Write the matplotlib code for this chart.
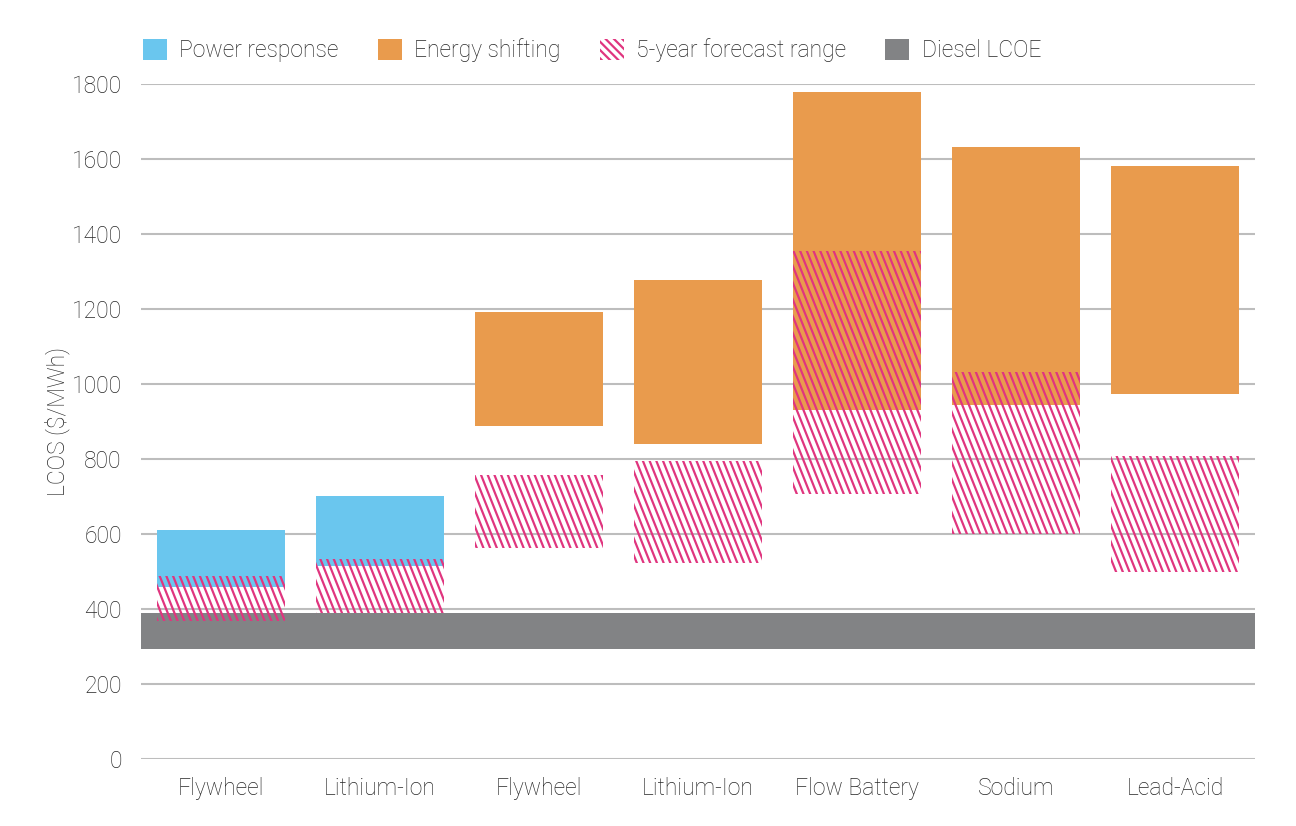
import numpy as np
import matplotlib.pyplot as plt
from matplotlib.patches import Patch
from matplotlib.collections import LineCollection

plt.rcParams['font.family'] = ['Roboto', 'DejaVu Sans']
plt.rcParams['hatch.linewidth'] = 1.6

categories = ['Flywheel', 'Lithium-Ion', 'Flywheel', 'Lithium-Ion',
              'Flow Battery', 'Sodium', 'Lead-Acid']

# power response bars (first two categories)
power_low = [460, 515]
power_high = [611, 702]

# energy shifting bars (last five categories)
energy_low = [889, 841, 931, 944, 974]
energy_high = [1192, 1278, 1779, 1632, 1581]

# 5-year forecast range, one per category
forecast_low = [369, 390, 564, 524, 708, 600, 498]
forecast_high = [489, 534, 758, 795, 1355, 1032, 808]

diesel_low = 295
diesel_high = 391

yticks = [0, 200, 400, 600, 800, 1000, 1200, 1400, 1600, 1800]

blue = '#6AC6EE'
orange = '#E99B4D'
pink = '#E0357F'
grey = '#828385'
text_col = '#262626'
fs = 16.5

fig = plt.figure(figsize=(12.96, 8.26), dpi=100)
ax = fig.add_axes([0.109, 0.0807, 0.859, 0.8176])

x = np.arange(len(categories))
width = 0.806

ax.set_xlim(-0.5, len(categories) - 0.5)
ax.set_ylim(0, 1800)

for y in yticks:
    ax.axhline(y, color='#BDBDBD', lw=1.5, zorder=0)

ax.bar(x[:2], np.subtract(power_high, power_low), bottom=power_low,
       width=width, color=blue, zorder=2)
ax.bar(x[2:], np.subtract(energy_high, energy_low), bottom=energy_low,
       width=width, color=orange, zorder=2)
ax.axhspan(diesel_low, diesel_high, color=grey, zorder=3, lw=0)

# steep hatch lines, clipped to each forecast range bar
fig.canvas.draw()
bb = ax.get_window_extent()
w_px, h_px = bb.width, bb.height
spacing = 6.7 / w_px
lean = 0.4 * h_px / w_px
starts = np.arange(-lean - 0.05, 1.05, spacing)
segs = [[(s, 1), (s + lean, 0)] for s in starts]

rects = ax.bar(x, np.subtract(forecast_high, forecast_low), bottom=forecast_low,
               width=width, facecolor='none', edgecolor='none', zorder=4)
for r in rects:
    lc = LineCollection(segs, colors=pink, linewidths=1.6,
                        transform=ax.transAxes, zorder=4)
    ax.add_collection(lc)
    lc.set_clip_path(r)

for s in ax.spines.values():
    s.set_visible(False)
ax.tick_params(length=0)
ax.set_yticks(yticks)
ax.set_yticklabels([str(v) for v in yticks], fontsize=fs, color=text_col,
                   fontweight='light')
ax.tick_params(axis='y', pad=14)
ax.set_xticks(x)
ax.set_xticklabels(categories, fontsize=fs, color=text_col, fontweight='light')
ax.tick_params(axis='x', pad=13)
ax.set_ylabel('LCOS ($/MWh)', fontsize=fs, color=text_col, fontweight='light',
              labelpad=1)

handles = [Patch(facecolor=blue, label='Power response'),
           Patch(facecolor=orange, label='Energy shifting'),
           Patch(facecolor='white', edgecolor=pink, hatch='\\\\\\\\', lw=0,
                 label='5-year forecast range'),
           Patch(facecolor=grey, label='Diesel LCOE')]
leg = fig.legend(handles=handles, loc='center left', ncol=4,
                 bbox_to_anchor=(0.110, 0.939), frameon=False,
                 prop={'size': fs, 'weight': 'light'},
                 handlelength=1.05, handleheight=1.05, handletextpad=0.55,
                 columnspacing=1.7, borderaxespad=0, borderpad=0)
for t in leg.get_texts():
    t.set_color(text_col)

fig.savefig('out.png', dpi=100, facecolor='white')
